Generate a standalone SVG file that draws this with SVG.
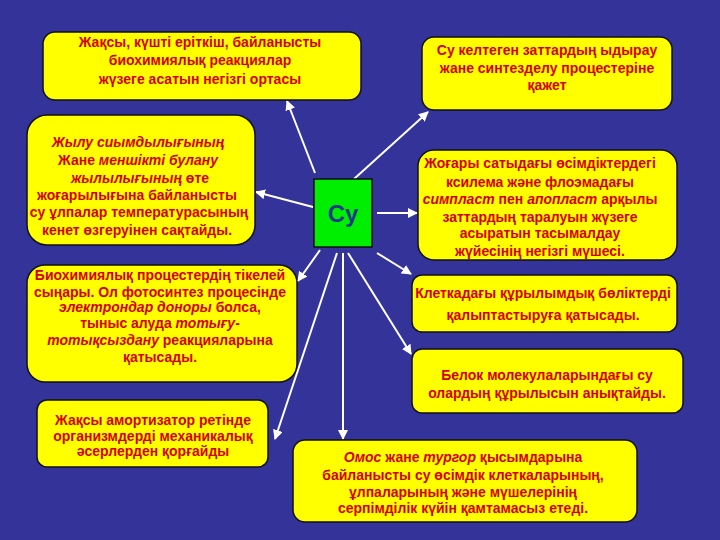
<svg xmlns="http://www.w3.org/2000/svg" width="720" height="540" viewBox="0 0 720 540">
<defs>
<marker id="ah" viewBox="0 0 10 10" refX="9" refY="5" markerWidth="5" markerHeight="5" orient="auto-start-reverse">
<path d="M0,0 L10,5 L0,10 z" fill="#ffffff"/>
</marker>
<style>
.box{fill:#ffff00;stroke:#111111;stroke-width:1.5}
.t{font-family:"Liberation Sans",Arial,sans-serif;font-size:14px;font-weight:bold;fill:#d40000;text-anchor:middle}
.i{font-style:italic}
.c{stroke:#ffffff;stroke-width:2;fill:none;marker-end:url(#ah)}
</style>
</defs>
<rect width="720" height="540" fill="#333399"/>
<g id="connectors">
<line class="c" x1="315" y1="173" x2="287" y2="101"/>
<line class="c" x1="354" y1="179" x2="428" y2="112"/>
<line class="c" x1="313" y1="207" x2="256" y2="192"/>
<line class="c" x1="377" y1="213" x2="417" y2="213"/>
<line class="c" x1="320" y1="250" x2="298" y2="281"/>
<line class="c" x1="377" y1="253" x2="411" y2="274"/>
<line class="c" x1="348" y1="253" x2="411" y2="354"/>
<line class="c" x1="337" y1="253" x2="275" y2="439"/>
<line class="c" x1="343" y1="253" x2="343" y2="439"/>
</g>
<g id="center">
<rect x="314" y="179" width="58" height="68" fill="#00ee00" stroke="#111111" stroke-width="1.5"/>
<text x="343" y="222" font-family="Liberation Sans,Arial,sans-serif" font-size="24" font-weight="bold" fill="#1a3a8a" text-anchor="middle">Су</text>
</g>
<g id="n1">
<rect class="box" x="43" y="32" width="318" height="68" rx="12"/>
<text class="t" x="200" y="47">Жақсы, күшті еріткіш, байланысты</text>
<text class="t" x="200" y="65">биохимиялық реакциялар</text>
<text class="t" x="200" y="84">жүзеге асатын негізгі ортасы</text>
</g>
<g id="n2">
<rect class="box" x="422" y="37" width="250" height="73" rx="12"/>
<text class="t" x="547" y="55">Су келтеген заттардың ыдырау</text>
<text class="t" x="547" y="73">жане синтезделу процестеріне</text>
<text class="t" x="547" y="90">қажет</text>
</g>
<g id="n3">
<rect class="box" x="27" y="115" width="228" height="130" rx="20"/>
<text class="t i" x="138" y="147">Жылу сиымдылығының</text>
<text class="t" x="138" y="165">Жане  <tspan class="i">меншікті булану</tspan></text>
<text class="t" x="140" y="183"><tspan class="i">жылылығының</tspan> өте</text>
<text class="t" x="137" y="200">жоғарылығына  байланысты</text>
<text class="t" x="139" y="217">су ұлпалар  температурасының</text>
<text class="t" x="137" y="235">кенет  өзгеруінен сақтайды.</text>
</g>
<g id="n4">
<rect class="box" x="418" y="150" width="259" height="110" rx="16"/>
<text class="t" x="540" y="168">Жоғары сатыдағы өсімдіктердегі</text>
<text class="t" x="540" y="187">ксилема және флоэмадағы</text>
<text class="t" x="540" y="204"><tspan class="i">симпласт</tspan> пен <tspan class="i">апопласт</tspan> арқылы</text>
<text class="t" x="540" y="222">заттардың таралуын жүзеге</text>
<text class="t" x="540" y="238">асыратын  тасымалдау</text>
<text class="t" x="540" y="256">жүйесінің негізгі мүшесі.</text>
</g>
<g id="n5">
<rect class="box" x="27" y="265" width="270" height="117" rx="18"/>
<text class="t" x="160" y="280">Биохимиялық процестердің тікелей</text>
<text class="t" x="160" y="297">сыңары. Ол фотосинтез процесінде</text>
<text class="t" x="160" y="312"><tspan class="i">электрондар доноры</tspan> болса,</text>
<text class="t" x="160" y="328">тыныс алуда  <tspan class="i">тотығу-</tspan></text>
<text class="t" x="160" y="345"><tspan class="i">тотықсыздану</tspan> реакцияларына</text>
<text class="t" x="160" y="362">қатысады.</text>
</g>
<g id="n6">
<rect class="box" x="412" y="275" width="265" height="57" rx="10"/>
<text class="t" x="543" y="298">Клеткадағы құрылымдық бөліктерді</text>
<text class="t" x="543" y="320">қалыптастыруға қатысады.</text>
</g>
<g id="n7">
<rect class="box" x="412" y="349" width="271" height="64" rx="10"/>
<text class="t" x="547" y="380">Белок молекулаларындағы су</text>
<text class="t" x="547" y="398">олардың құрылысын анықтайды.</text>
</g>
<g id="n8">
<rect class="box" x="37" y="400" width="231" height="67" rx="10"/>
<text class="t" x="153" y="425">Жақсы амортизатор ретінде</text>
<text class="t" x="153" y="441">организмдерді механикалық</text>
<text class="t" x="153" y="456">әсерлерден қорғайды</text>
</g>
<g id="n9">
<rect class="box" x="293" y="440" width="344" height="82" rx="12"/>
<text class="t" x="463" y="462"><tspan class="i">Омос</tspan>  жане <tspan class="i">тургор</tspan> қысымдарына</text>
<text class="t" x="463" y="480">байланысты су өсімдік клеткаларының,</text>
<text class="t" x="463" y="497">ұлпаларының және мүшелерінің</text>
<text class="t" x="463" y="513">серпімділік күйін қамтамасыз етеді.</text>
</g>
</svg>
